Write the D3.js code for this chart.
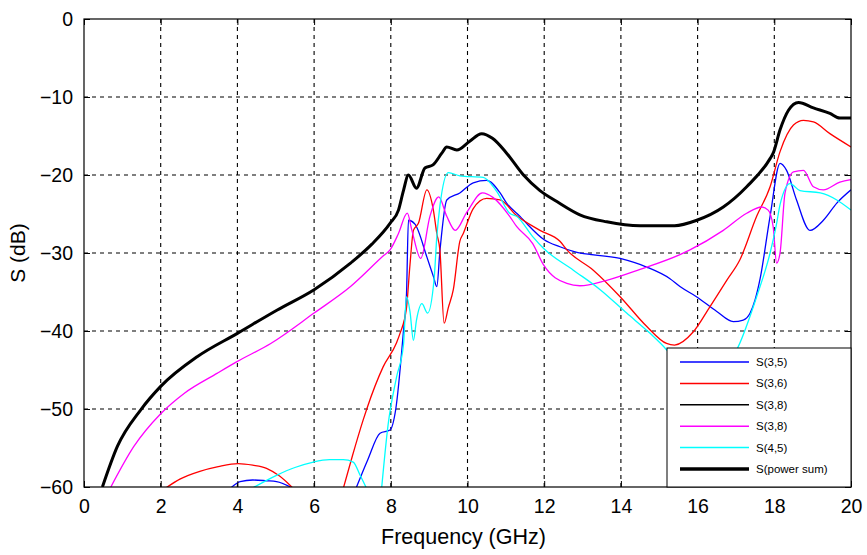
<!DOCTYPE html>
<html><head><meta charset="utf-8">
<script src="https://cdn.jsdelivr.net/npm/d3@7"></script>
<style>
body{margin:0;background:#fff;}
svg{display:block;font-family:"Liberation Sans",Arial,sans-serif;}
</style></head><body>
<svg id="c" width="867" height="555"></svg>
<script>
const xTicks = [0,2,4,6,8,10,12,14,16,18,20];
const yTicks = [0,-10,-20,-30,-40,-50,-60];
const seriesNames = ["S(3,5)","S(3,6)","S(3,8)","S(3,8)","S(4,5)","S(power sum)"];
const seriesColors = ["#0000ff","#ff0000","#000000","#ff00ff","#00ffff","#000000"];

const s35 = [
 [[3.81,-60.2],[4.07,-59.3],[4.4,-59.1],[4.76,-59.2],[5.02,-59.3],[5.46,-60.2]],
 [[7.09,-60.2],[7.4,-56.5],[7.72,-53.1],[7.98,-52.7],[8.13,-50],[8.33,-40],[8.41,-35.2],[8.46,-25.8],[8.63,-26.3],[8.94,-30.5],[9.11,-33],[9.2,-34.3],[9.28,-29.8],[9.46,-23.2],[9.8,-22.3],[10.15,-21],[10.5,-20.7],[10.85,-22.3],[11.02,-23.6],[11.37,-25.3],[11.54,-26.2],[12.0,-28.3],[12.41,-29.2],[12.76,-29.8],[13.98,-30.7],[14.67,-31.8],[15.28,-33.3],[15.54,-34.3],[15.97,-35.6],[16.5,-37.5],[16.93,-38.8],[17.19,-38.6],[17.37,-37.7],[17.5,-36],[17.63,-33.3],[17.89,-25.3],[18.15,-18.5],[18.32,-19.4],[18.58,-23.2],[18.93,-27.1],[19.28,-25.8],[19.63,-23.6],[20,-21.9]]
];
const s36 = [
 [[2.11,-60.2],[2.5,-59],[3.02,-58],[3.5,-57.4],[4.02,-57],[4.4,-57.2],[4.76,-57.6],[5.1,-58.6],[5.46,-60.2]],
 [[6.76,-60.2],[7.0,-56],[7.28,-51.4],[7.38,-49.9],[7.8,-44.6],[8.15,-41.5],[8.24,-40.3],[8.41,-37],[8.5,-31.5],[8.59,-27.1],[8.72,-26.2],[8.94,-21.9],[9.11,-24.5],[9.2,-27.5],[9.28,-29.6],[9.39,-39],[9.5,-37],[9.63,-34.7],[9.8,-28.5],[9.89,-27.5],[10.15,-24.3],[10.5,-23],[10.85,-23.2],[11.28,-25.2],[11.89,-27.1],[12.41,-28.5],[12.59,-29.6],[13.28,-32.2],[13.98,-35.6],[14.67,-39.4],[15.19,-41.6],[15.4,-41.8],[15.89,-40.1],[16.32,-36.9],[16.76,-33.5],[17.1,-30.9],[17.54,-25.3],[17.89,-21.5],[18.15,-17],[18.5,-13.6],[18.76,-13.0],[19.02,-13.2],[19.45,-14.7],[20,-16.4]]
];
const s38a = [];
const s38b = [
 [[0.7,-60],[1.3,-54.8],[2.0,-50.6],[2.61,-48],[3.48,-45.4],[4.0,-43.9],[4.87,-41.6],[6.0,-37.7],[6.95,-34.3],[7.82,-30.3],[7.98,-29.6],[8.2,-27.5],[8.43,-24.9],[8.55,-27.1],[8.78,-30.7],[9.02,-25.3],[9.25,-22.8],[9.46,-25.3],[9.68,-27.1],[9.98,-24.8],[10.39,-22.3],[10.67,-22.9],[11.1,-25.3],[11.28,-26.6],[11.7,-28.8],[11.98,-31.5],[12.59,-33.9],[12.93,-34.2],[13.63,-33.5],[14.5,-32.1],[15.54,-30.2],[15.8,-29.6],[16.67,-27.1],[17.28,-24.9],[17.67,-24.1],[17.84,-24.5],[17.97,-26.6],[18.06,-31.3],[18.15,-30],[18.28,-22.3],[18.5,-19.6],[18.76,-19.4],[19.02,-21.5],[19.28,-21.9],[19.71,-20.9],[20,-20.6]]
];
const s45 = [
 [[4.37,-60.2],[5.02,-58.5],[5.5,-57.5],[5.98,-56.8],[6.4,-56.5],[6.76,-56.5],[7.02,-56.8],[7.2,-58.5],[7.37,-60.2]],
 [[7.76,-60.2],[7.93,-52],[8.15,-45.9],[8.33,-41.8],[8.41,-35.6],[8.5,-37.5],[8.59,-41.2],[8.67,-38.6],[8.81,-36.5],[8.96,-37.7],[9.13,-33.3],[9.2,-27.9],[9.28,-24],[9.5,-19.7],[9.8,-20.1],[10.41,-20.3],[10.76,-22.1],[11.1,-24.9],[11.28,-25.3],[11.7,-27.9],[11.98,-29.4],[12.76,-32.2],[13.46,-34.7],[14.15,-37.7],[14.76,-40.3],[15.19,-42.4],[15.6,-45],[16.2,-47],[16.7,-45],[17.06,-42],[17.54,-35.6],[17.89,-30],[18.05,-26.5],[18.15,-23.8],[18.41,-21.1],[18.67,-22],[19.2,-22.3],[19.63,-23.2],[20,-24.5]]
];
const sPower = [
 [[0.48,-60],[0.87,-54.8],[1.48,-50.1],[2.0,-47.1],[2.95,-43.3],[4.0,-40.3],[5.04,-37.3],[6.0,-34.7],[6.95,-31.3],[7.5,-28.9],[7.98,-26.2],[8.2,-24.5],[8.33,-22],[8.46,-20],[8.67,-21.7],[8.89,-19.1],[9.1,-18.7],[9.33,-17.2],[9.46,-16.4],[9.72,-16.8],[10.05,-15.7],[10.37,-14.7],[10.65,-15.3],[11.02,-17.2],[11.46,-20],[11.89,-22.0],[12.33,-23.4],[12.93,-25.1],[13.63,-26.0],[14.5,-26.5],[15.4,-26.5],[15.98,-25.8],[16.67,-24.1],[17.28,-21.5],[17.89,-17.9],[17.97,-17.2],[18.15,-14.2],[18.37,-11.7],[18.63,-10.7],[19.02,-11.4],[19.45,-12.1],[19.71,-12.7],[20,-12.7]]
];
const seriesData = [s35, s36, s38a, s38b, s45, sPower];
const seriesWidths = [1.3,1.3,1.3,1.3,1.3,3];

const svg = d3.select("#c");
const L=84, R=851, T=19, B=487;
const x = d3.scaleLinear().domain([0,20]).range([L,R]);
const y = d3.scaleLinear().domain([-60,0]).range([B,T]);

svg.append("defs").append("clipPath").attr("id","clip")
  .append("rect").attr("x",L).attr("y",T).attr("width",R-L).attr("height",B-T);

// grid
const g = svg.append("g");
g.selectAll(".gx").data(xTicks.slice(1,-1)).enter().append("line")
  .attr("x1",d=>x(d)).attr("x2",d=>x(d)).attr("y1",T).attr("y2",B)
  .attr("stroke","#000").attr("stroke-width",1.1).attr("stroke-dasharray","4,4");
g.selectAll(".gy").data(yTicks.slice(1,-1)).enter().append("line")
  .attr("y1",d=>y(d)).attr("y2",d=>y(d)).attr("x1",L).attr("x2",R)
  .attr("stroke","#000").attr("stroke-width",1.1).attr("stroke-dasharray","4,4");

// series
const line = d3.line().x(d=>x(d[0])).y(d=>y(d[1])).curve(d3.curveMonotoneX);
const lg = svg.append("g").attr("clip-path","url(#clip)");
seriesData.forEach((segs,i)=>{
  segs.forEach(seg=>{
    lg.append("path").attr("d",line(seg)).attr("fill","none")
      .attr("stroke",seriesColors[i]).attr("stroke-width",seriesWidths[i])
      .attr("stroke-linejoin","round");
  });
});

// axes
const ax = svg.append("g");
ax.append("g").attr("transform",`translate(0,${B})`)
  .call(d3.axisBottom(x).tickValues(xTicks).tickSize(-6).tickPadding(12).tickFormat(d3.format("d")));
ax.append("g").attr("transform",`translate(0,${T})`)
  .call(d3.axisTop(x).tickValues(xTicks).tickSize(-6).tickFormat(""));
ax.append("g").attr("transform",`translate(${L},0)`)
  .call(d3.axisLeft(y).tickValues(yTicks).tickSize(-6).tickPadding(11).tickFormat(d3.format("d")));
ax.append("g").attr("transform",`translate(${R},0)`)
  .call(d3.axisRight(y).tickValues(yTicks).tickSize(-6).tickFormat(""));
ax.selectAll(".domain").remove();
ax.selectAll(".tick line").attr("stroke","#000");
ax.selectAll(".tick text").attr("fill","#000").style("font-size","19.5px")
  .style("font-family","'Liberation Sans',Arial,sans-serif");
svg.append("rect").attr("x",L).attr("y",T).attr("width",R-L).attr("height",B-T)
  .attr("fill","none").attr("stroke","#000").attr("stroke-width",1.2);

// axis labels
svg.append("text").attr("x",(L+R)/2 - 4).attr("y",544).attr("text-anchor","middle")
  .style("font-size","21.5px").text("Frequency (GHz)");
svg.append("text").attr("transform",`translate(25,${(T+B)/2}) rotate(-90)`)
  .attr("text-anchor","middle").style("font-size","21px").text("S (dB)");

// legend
const lgX=667, lgY=348, lgW=R-lgX, lgH=B-lgY;
const leg = svg.append("g");
leg.append("rect").attr("x",lgX).attr("y",lgY).attr("width",lgW).attr("height",lgH)
  .attr("fill","#fff").attr("stroke","#000").attr("stroke-width",1);
seriesNames.forEach((n,i)=>{
  const yy = lgY+14+i*21.4;
  leg.append("line").attr("x1",lgX+13).attr("x2",lgX+82).attr("y1",yy).attr("y2",yy)
    .attr("stroke",seriesColors[i]).attr("stroke-width",seriesWidths[i]===3?3.5:1.5);
  leg.append("text").attr("x",lgX+89).attr("y",yy+4).style("font-size","11.5px")
    .attr("fill","#000").text(n);
});
</script>
</body></html>
